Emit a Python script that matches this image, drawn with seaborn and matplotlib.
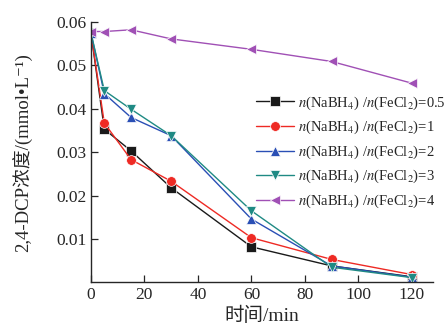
import pandas as pd
import matplotlib
matplotlib.use("Agg")
import matplotlib.pyplot as plt
import seaborn as sns


# Data
TIME_MIN = [0, 5, 15, 30, 60, 90, 120]
RATIO_05 = [0.0575, 0.0353, 0.0303, 0.0218, 0.0082, 0.0038, 0.0013]
RATIO_1 = [0.0575, 0.0367, 0.0283, 0.0233, 0.0103, 0.0053, 0.0018]
RATIO_2 = [0.0575, 0.0435, 0.0380, 0.0338, 0.0146, 0.0038, 0.0012]
RATIO_3 = [0.0575, 0.0442, 0.0399, 0.0338, 0.0165, 0.0035, 0.0011]
RATIO_4 = [0.0578, 0.0578, 0.0582, 0.0561, 0.0537, 0.0509, 0.0459]

RATIOS = ["0.5", "1", "2", "3", "4"]
SERIES = [RATIO_05, RATIO_1, RATIO_2, RATIO_3, RATIO_4]
COLORS = ["#1a1a1a", "#ee2a24", "#2a4fb5", "#1f8a84", "#a050b5"]
MARKERS = ["s", "o", "^", "v", "<"]


def legend_label(ratio):
    return r"$\mathit{n}$(NaBH$_4$) /$\mathit{n}$(FeCl$_2$)=" + ratio


def build_long_dataframe():
    rows = []
    for ratio, values in zip(RATIOS, SERIES):
        for t, c in zip(TIME_MIN, values):
            rows.append({"time": t, "conc": c, "series": legend_label(ratio)})
    return pd.DataFrame(rows)


def main():
    sns.set_style("ticks")
    plt.rcParams["font.family"] = ["Liberation Serif", "Noto Sans CJK SC", "DejaVu Serif"]
    plt.rcParams["mathtext.fontset"] = "stix"

    df = build_long_dataframe()
    labels = [legend_label(r) for r in RATIOS]

    fig = plt.figure(figsize=(4.48, 3.28), dpi=100)
    ax = fig.add_axes([0.203, 0.139, 0.764, 0.794])

    sns.lineplot(
        data=df, x="time", y="conc", hue="series", style="series",
        hue_order=labels, style_order=labels,
        palette=dict(zip(labels, COLORS)),
        markers=dict(zip(labels, MARKERS)),
        dashes=False, markersize=7, markeredgewidth=0.5,
        linewidth=1.0, ax=ax,
    )

    ax.set_xlim(0, 128)
    ax.set_ylim(0, 0.06)
    ax.set_xticks([0, 20, 40, 60, 80, 100, 120])
    ax.set_yticks([0.01, 0.02, 0.03, 0.04, 0.05, 0.06])
    ax.set_yticklabels(["0.01", "0.02", "0.03", "0.04", "0.05", "0.06"])
    ax.tick_params(direction="in", labelsize=12.5, length=5, width=0.9, pad=3)
    sns.despine(ax=ax)
    for side in ["left", "bottom"]:
        ax.spines[side].set_linewidth(1.0)

    ax.set_xlabel("时间/min", fontsize=14, labelpad=3)
    ax.set_ylabel("2,4-DCP浓度/(mmol•L⁻¹)", fontsize=13.5, labelpad=17)

    ax.legend(
        loc="upper left", bbox_to_anchor=(0.465, 0.745), frameon=False,
        fontsize=10.5, handlelength=2.6, handletextpad=0.3, labelspacing=0.5,
        borderaxespad=0,
    )

    fig.savefig("out.png", dpi=100)


if __name__ == "__main__":
    main()
